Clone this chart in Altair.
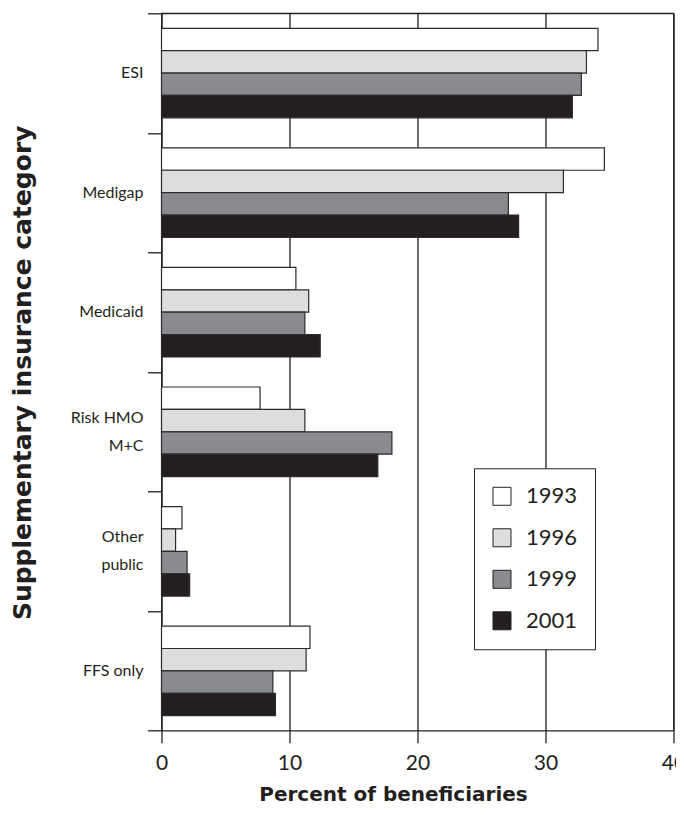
import altair as alt
import pandas as pd

categories = ["ESI", "Medigap", "Medicaid", "Risk HMO|M+C", "Other|public", "FFS only"]
years = ["1993", "1996", "1999", "2001"]
v1993 = [34.1, 34.6, 10.5, 7.7, 1.6, 11.6]
v1996 = [33.2, 31.4, 11.5, 11.2, 1.1, 11.3]
v1999 = [32.8, 27.1, 11.2, 18.0, 2.0, 8.7]
v2001 = [32.1, 27.9, 12.4, 16.9, 2.2, 8.9]
colors = ["#ffffff", "#dcdddf", "#8a8b8e", "#231f20"]
x_ticks = [0, 10, 20, 30, 40]

rows = []
for yr, vals in zip(years, [v1993, v1996, v1999, v2001]):
    for c, v in zip(categories, vals):
        rows.append({"category": c, "year": yr, "value": v})
df = pd.DataFrame(rows)

lab_rows = []
for c in categories:
    parts = c.split("|")
    for i, p in enumerate(parts):
        pos = "single" if len(parts) == 1 else ("first" if i == 0 else "second")
        lab_rows.append({"category": c, "text": p, "pos": pos})
lab_df = pd.DataFrame(lab_rows)

INK = "#231f20"
FONT = "Lato"
TFONT = "DejaVu Sans"
LINE_GAP = 14

y_enc = alt.Y(
    "category:N",
    sort=categories,
    scale=alt.Scale(paddingInner=0, paddingOuter=0),
    axis=alt.Axis(
        title="Supplementary insurance category",
        tickBand="extent",
        tickSize=14,
        tickColor=INK,
        tickWidth=1.3,
        domain=False,
        grid=False,
        labels=False,
        titleFont=TFONT,
        titleFontSize=25,
        titleFontWeight="bold",
        titleColor=INK,
        titleX=-139.5,
        titleY=359,
        titleAngle=270,
        titleAlign="center",
        titleBaseline="middle",
    ),
)

bars = alt.Chart(df).mark_bar(stroke="#2e2b2c", strokeWidth=1.2).encode(
    x=alt.X(
        "value:Q",
        scale=alt.Scale(domain=[0, 40], nice=False, zero=True),
        axis=alt.Axis(
            title="Percent of beneficiaries",
            values=x_ticks,
            grid=True,
            gridColor=INK,
            gridWidth=1.3,
            gridOpacity=1,
            domain=False,
            tickSize=12,
            tickColor=INK,
            tickWidth=1.3,
            labelFont=FONT,
            labelFontSize=21,
            labelColor=INK,
            labelPadding=10,
            labelFlush=False,
            titleFont=TFONT,
            titleFontSize=20,
            titleFontWeight="bold",
            titleColor=INK,
            titleX=231.5,
            titleY=69.5,
            titleAlign="center",
            titleBaseline="alphabetic",
        ),
    ),
    y=y_enc,
    yOffset=alt.YOffset(
        "year:N", sort=years, scale=alt.Scale(paddingOuter=0.67, paddingInner=0)
    ),
    fill=alt.Fill(
        "year:N",
        sort=years,
        scale=alt.Scale(domain=years, range=colors),
        legend=alt.Legend(
            title=None,
            orient="none",
            legendX=312.5,
            legendY=455,
            padding=17,
            strokeColor=INK,
            fillColor="white",
            symbolType="square",
            symbolSize=324,
            symbolStrokeColor=INK,
            symbolStrokeWidth=1,
            symbolOpacity=1,
            labelFont=FONT,
            labelFontSize=22,
            labelColor=INK,
            labelOffset=13,
            rowPadding=19.5,
        ),
    ),
)


def label_layer(pos, dy):
    return (
        alt.Chart(lab_df)
        .transform_filter(alt.datum.pos == pos)
        .mark_text(
            align="right",
            baseline="middle",
            dy=dy,
            font=FONT,
            fontSize=16,
            color=INK,
        )
        .encode(x=alt.value(-18), y=alt.Y("category:N", sort=categories), text="text:N")
    )


chart = alt.layer(
    bars,
    label_layer("single", 0),
    label_layer("first", -LINE_GAP),
    label_layer("second", LINE_GAP),
).properties(
    width=512,
    height=717.4,
    autosize=alt.AutoSizeParams(type="none"),
    padding={"left": 153.5, "top": 5.3, "right": 2.5, "bottom": 76.5},
    background="white",
).configure_view(stroke=INK, strokeWidth=1.3)

chart.save("out.html", embed_options={"renderer": "svg", "actions": False})
